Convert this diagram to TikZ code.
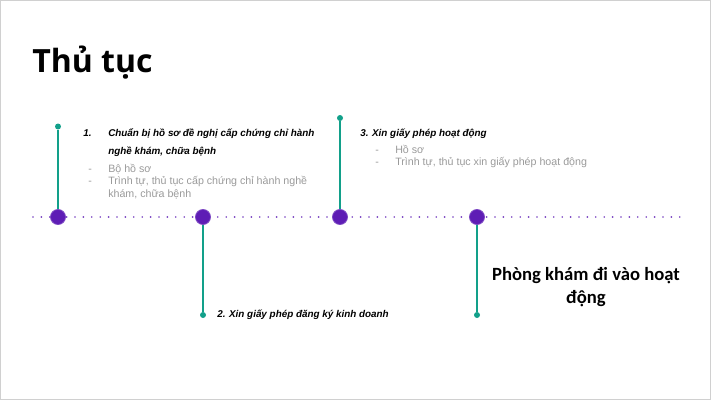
\documentclass[tikz,border=0pt]{standalone}
\usepackage{fontspec}
\setmainfont{Liberation Sans}
\newfontfamily\titlefont{Open Sans}
\newfontfamily\calfont{Carlito}
\definecolor{tlpurple}{HTML}{5E1DB5}
\definecolor{tlteal}{HTML}{12A08A}
\definecolor{tlgray}{HTML}{9A9A9A}
\definecolor{frame}{HTML}{D0D0D0}
\begin{document}
\begin{tikzpicture}[x=0.75pt,y=-0.75pt,
  bigdot/.style={circle,fill=tlpurple,draw=tlpurple!80!white,line width=0.6pt,minimum size=11.3pt,inner sep=0pt},
  smalldot/.style={circle,fill=tlteal,minimum size=4.5pt,inner sep=0pt},
  stem/.style={draw=tlteal,line width=1.3pt},
  head/.style={font=\bfseries\itshape\fontsize{7.4}{15}\selectfont,anchor=base west,inner sep=0pt},
  item/.style={font=\fontsize{8}{9.5}\selectfont,text=tlgray,anchor=base west,inner sep=0pt},
  dashmark/.style={font=\fontsize{8}{9.5}\selectfont,text=tlgray,anchor=base west,inner sep=0pt}]
\useasboundingbox (0,0) rectangle (711,400);
\draw[frame,line width=0.8pt] (0.5,0.5) rectangle (710.5,399.5);
% title
\node[font=\titlefont\bfseries\fontsize{24}{28}\selectfont,anchor=base west,inner sep=0pt] (title) at (32,72) {Thủ tục};
% timeline
\coordinate (tlstart) at (33,217);
\coordinate (tlend) at (681,217);
\draw[tlpurple!85!white,line width=1.4pt,dash pattern=on 0pt off 6.3pt,line cap=round] (tlstart) -- (tlend);
% nodes
\node[bigdot] (p1) at (58,217) {};
\node[bigdot] (p2) at (203,217) {};
\node[bigdot] (p3) at (340,217) {};
\node[bigdot] (p4) at (477,217) {};
\node[smalldot] (s1) at (58,126.5) {};
\node[smalldot] (s2) at (203,315) {};
\node[smalldot] (s3) at (340,118) {};
\node[smalldot] (s4) at (477,315) {};
\draw[stem] (s1) -- (p1);
\draw[stem] (p2) -- (s2);
\draw[stem] (s3) -- (p3);
\draw[stem] (p4) -- (s4);
% text 1
\node[head] (n1) at (83,136) {1.};
\node[head] (h1a) at (108,136) {Chuẩn bị hồ sơ đề nghị cấp chứng chỉ hành};
\node[head] (h1b) at (108,154) {nghề khám, chữa bệnh};
\node[dashmark] (d1a) at (88,172) {-};
\node[item] (i1a) at (108,172) {Bộ hồ sơ};
\node[dashmark] (d1b) at (88,184.5) {-};
\node[item] (i1b) at (108,184.5) {Trình tự, thủ tục cấp chứng chỉ hành nghề};
\node[item] (i1c) at (108,197) {khám, chữa bệnh};
% text 3
\node[head] (h3) at (360,136) {3. Xin giấy phép hoạt động};
\node[dashmark] (d3a) at (375,153) {-};
\node[item] (i3a) at (395,153) {Hồ sơ};
\node[dashmark] (d3b) at (375,165.5) {-};
\node[item] (i3b) at (395,165.5) {Trình tự, thủ tục xin giấy phép hoạt động};
% text 2
\node[head] (h2) at (217,317) {2. Xin giấy phép đăng ký kinh doanh};
% final
\node[font=\calfont\bfseries\fontsize{14}{17}\selectfont,align=center,inner sep=0pt,anchor=north] (fin) at (586,267) {Phòng khám đi vào hoạt\\động};
\end{tikzpicture}
\end{document}
